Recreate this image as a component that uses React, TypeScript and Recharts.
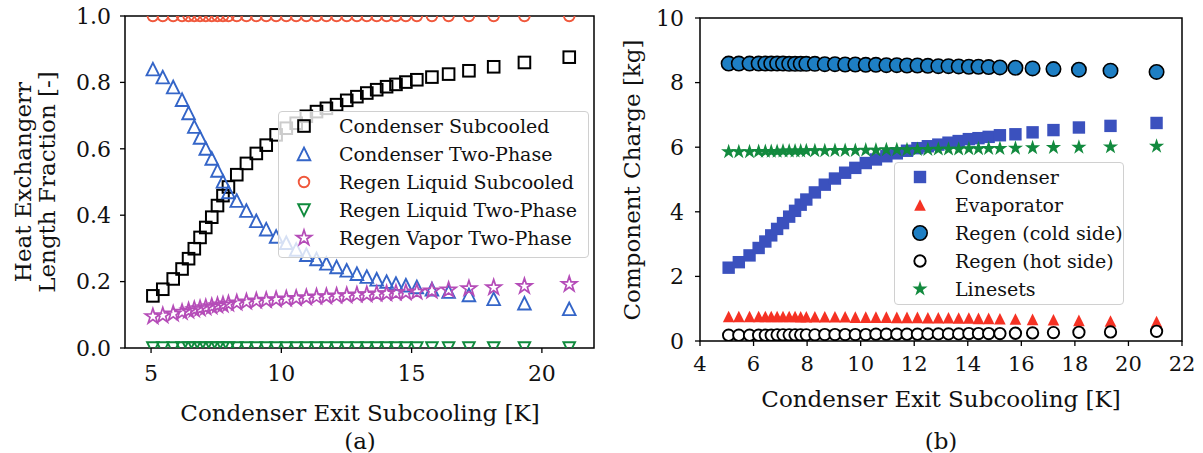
import { ScatterChart, Scatter, XAxis, YAxis, ReferenceArea, Legend } from "recharts";

// condenser exit subcooling [K], shared by both panels
const X = [5.07, 5.45, 5.85, 6.19, 6.44, 6.66, 6.88, 7.1, 7.33, 7.55, 7.76, 7.97, 8.29, 8.66, 9.04, 9.42, 9.8, 10.19, 10.57, 10.96, 11.35, 11.73, 12.12, 12.51, 12.9, 13.28, 13.66, 14.04, 14.4, 14.78, 15.2, 15.78, 16.42, 17.2, 18.15, 19.33, 21.05];

// panel (a): heat exchanger length fractions
const condSubcooled = [0.157, 0.177, 0.208, 0.238, 0.269, 0.299, 0.333, 0.363, 0.394, 0.429, 0.459, 0.485, 0.522, 0.556, 0.586, 0.611, 0.642, 0.662, 0.677, 0.698, 0.712, 0.722, 0.733, 0.746, 0.757, 0.768, 0.778, 0.787, 0.794, 0.801, 0.808, 0.816, 0.825, 0.835, 0.847, 0.86, 0.876];
const condTwoPhase = [0.84, 0.816, 0.786, 0.748, 0.708, 0.667, 0.634, 0.601, 0.571, 0.535, 0.502, 0.47, 0.444, 0.414, 0.383, 0.358, 0.336, 0.317, 0.297, 0.281, 0.268, 0.255, 0.244, 0.234, 0.224, 0.215, 0.207, 0.2, 0.194, 0.189, 0.184, 0.177, 0.17, 0.16, 0.148, 0.135, 0.118];
const regenLiqSubcooled = [1, 1, 1, 1, 1, 1, 1, 1, 1, 1, 1, 1, 1, 1, 1, 1, 1, 1, 1, 1, 1, 1, 1, 1, 1, 1, 1, 1, 1, 1, 1, 1, 1, 1, 1, 1, 1];
const regenLiqTwoPhase = [0, 0, 0, 0, 0, 0, 0, 0, 0, 0, 0, 0, 0, 0, 0, 0, 0, 0, 0, 0, 0, 0, 0, 0, 0, 0, 0, 0, 0, 0, 0, 0, 0, 0, 0, 0, 0];
const regenVapTwoPhase = [0.095, 0.098, 0.103, 0.108, 0.112, 0.116, 0.119, 0.122, 0.125, 0.128, 0.13, 0.133, 0.136, 0.139, 0.142, 0.144, 0.146, 0.148, 0.15, 0.152, 0.154, 0.155, 0.157, 0.158, 0.16, 0.161, 0.163, 0.164, 0.166, 0.167, 0.169, 0.172, 0.175, 0.179, 0.182, 0.186, 0.192];

// panel (b): component charge [kg]
const chargeCondenser = [2.27, 2.44, 2.65, 2.88, 3.08, 3.27, 3.47, 3.65, 3.85, 4.03, 4.22, 4.38, 4.6, 4.84, 5.03, 5.21, 5.36, 5.51, 5.62, 5.72, 5.81, 5.89, 5.97, 6.03, 6.08, 6.14, 6.19, 6.25, 6.28, 6.32, 6.37, 6.4, 6.46, 6.53, 6.61, 6.66, 6.75];
const chargeEvaporator = [0.76, 0.76, 0.76, 0.76, 0.76, 0.76, 0.76, 0.76, 0.76, 0.76, 0.75, 0.75, 0.75, 0.75, 0.75, 0.75, 0.74, 0.74, 0.74, 0.74, 0.73, 0.73, 0.73, 0.72, 0.72, 0.72, 0.71, 0.71, 0.7, 0.7, 0.69, 0.68, 0.67, 0.66, 0.64, 0.62, 0.6];
const chargeRegenCold = [8.59, 8.59, 8.59, 8.59, 8.59, 8.59, 8.59, 8.59, 8.58, 8.58, 8.58, 8.58, 8.58, 8.57, 8.57, 8.56, 8.56, 8.55, 8.55, 8.54, 8.54, 8.53, 8.53, 8.52, 8.51, 8.51, 8.5, 8.49, 8.49, 8.48, 8.47, 8.46, 8.44, 8.42, 8.4, 8.37, 8.33];
const chargeRegenHot = [0.18, 0.18, 0.18, 0.18, 0.18, 0.18, 0.19, 0.19, 0.19, 0.19, 0.19, 0.19, 0.19, 0.2, 0.2, 0.2, 0.2, 0.2, 0.21, 0.21, 0.21, 0.21, 0.21, 0.22, 0.22, 0.22, 0.22, 0.23, 0.23, 0.23, 0.23, 0.24, 0.25, 0.26, 0.27, 0.28, 0.3];
const chargeLinesets = [5.86, 5.86, 5.86, 5.87, 5.87, 5.87, 5.87, 5.88, 5.88, 5.88, 5.88, 5.89, 5.89, 5.89, 5.9, 5.9, 5.9, 5.91, 5.91, 5.92, 5.92, 5.92, 5.93, 5.93, 5.94, 5.94, 5.94, 5.95, 5.95, 5.96, 5.96, 5.97, 5.98, 5.99, 6.0, 6.01, 6.03];

const ticksAX = [5, 10, 15, 20];
const ticksAY = [0, 0.2, 0.4, 0.6, 0.8, 1.0];
const ticksBX = [4, 6, 8, 10, 12, 14, 16, 18, 20, 22];
const ticksBY = [0, 2, 4, 6, 8, 10];

const FONT = "'DejaVu Serif', serif";

type Mk = { kind: "square" | "tri" | "tridown" | "circle" | "star"; r: number; fill: string; stroke: string; sw: number };

function starPoints(cx: number, cy: number, r: number) {
  const pts: string[] = [];
  for (let k = 0; k < 10; k++) {
    const rr = k % 2 === 0 ? r : r * 0.382;
    const a = -Math.PI / 2 + (k * Math.PI) / 5;
    pts.push(`${cx + rr * Math.cos(a)},${cy + rr * Math.sin(a)}`);
  }
  return pts.join(" ");
}

function drawMarker(m: Mk, cx: number, cy: number) {
  if (cx == null || cy == null) return <g />;
  const { r, fill, stroke, sw } = m;
  const common = { fill, stroke, strokeWidth: sw, strokeLinejoin: "miter" as const };
  if (m.kind === "square") return <rect x={cx - r} y={cy - r} width={2 * r} height={2 * r} {...common} />;
  if (m.kind === "circle") return <circle cx={cx} cy={cy} r={r} {...common} />;
  if (m.kind === "tri") return <polygon points={`${cx},${cy - r} ${cx - r},${cy + r} ${cx + r},${cy + r}`} {...common} />;
  if (m.kind === "tridown") return <polygon points={`${cx},${cy + r} ${cx - r},${cy - r} ${cx + r},${cy - r}`} {...common} />;
  return <polygon points={starPoints(cx, cy, r)} {...common} />;
}

const shapeOf = (m: Mk) => (p: any) => drawMarker(m, p.cx, p.cy);

const mkSub: Mk = { kind: "square", r: 5.8, fill: "none", stroke: "#000000", sw: 2 };
const mkTwo: Mk = { kind: "tri", r: 6.3, fill: "none", stroke: "#3465c8", sw: 1.9 };
const mkLiqSub: Mk = { kind: "circle", r: 5.3, fill: "none", stroke: "#f0583c", sw: 1.9 };
const mkLiqTwo: Mk = { kind: "tridown", r: 5.8, fill: "none", stroke: "#0f8a3c", sw: 1.9 };
const mkVap: Mk = { kind: "star", r: 8, fill: "none", stroke: "#b54cb8", sw: 1.7 };

const mkCond: Mk = { kind: "square", r: 6.2, fill: "#3b51be", stroke: "#3b51be", sw: 0 };
const mkEvap: Mk = { kind: "tri", r: 5.8, fill: "#f53224", stroke: "#f53224", sw: 0 };
const mkCold: Mk = { kind: "circle", r: 7.2, fill: "#1e7fc4", stroke: "#000000", sw: 1.6 };
const mkHot: Mk = { kind: "circle", r: 5.7, fill: "#ffffff", stroke: "#000000", sw: 1.9 };
const mkLine: Mk = { kind: "star", r: 8, fill: "#128a3e", stroke: "#128a3e", sw: 0 };

const toPts = (ys: number[]) => X.map((x, i) => ({ x, y: ys[i] }));

const seriesA = [
  { name: "Condenser Subcooled", ys: condSubcooled, m: mkSub },
  { name: "Condenser Two-Phase", ys: condTwoPhase, m: mkTwo },
  { name: "Regen Liquid Subcooled", ys: regenLiqSubcooled, m: mkLiqSub },
  { name: "Regen Liquid Two-Phase", ys: regenLiqTwoPhase, m: mkLiqTwo },
  { name: "Regen Vapor Two-Phase", ys: regenVapTwoPhase, m: mkVap },
];

const seriesB = [
  { name: "Condenser", ys: chargeCondenser, m: mkCond },
  { name: "Evaporator", ys: chargeEvaporator, m: mkEvap },
  { name: "Regen (cold side)", ys: chargeRegenCold, m: mkCold },
  { name: "Regen (hot side)", ys: chargeRegenHot, m: mkHot },
  { name: "Linesets", ys: chargeLinesets, m: mkLine },
];

function LegendBox({ items }: { items: { name: string; m: Mk }[] }) {
  return (
    <div style={{ width: "100%", height: "100%", boxSizing: "border-box", border: "1px solid #d0d0d0", borderRadius: 4, background: "rgba(255,255,255,0.8)", fontFamily: FONT }}>
      {items.map((it) => (
        <div key={it.name} style={{ display: "flex", alignItems: "center", height: 28 }}>
          <svg width={60} height={28} style={{ flex: "none" }}>{drawMarker(it.m, 25, 14)}</svg>
          <span style={{ fontSize: 19, lineHeight: "28px", whiteSpace: "nowrap", color: "#111" }}>{it.name}</span>
        </div>
      ))}
    </div>
  );
}

const tickStyle = (size: number) => ({ fill: "#111", fontSize: size, fontFamily: FONT });

function Title({ text, x, y, rotate, size = 23 }: { text: string; x: number; y: number; rotate?: boolean; size?: number }) {
  return (
    <div style={{ position: "absolute", left: x, top: y, transform: `translate(-50%, -50%)${rotate ? " rotate(-90deg)" : ""}`, whiteSpace: "nowrap", fontSize: size, fontFamily: FONT, color: "#111", lineHeight: 1 }}>
      {text}
    </div>
  );
}

export default function App() {
  return (
    <div style={{ position: "absolute", left: 0, top: 0, width: 1203, height: 453, background: "#fff", fontFamily: FONT, overflow: "hidden" }}>
      {/* (a) length fraction */}
      <div style={{ position: "absolute", left: 0, top: 0 }}>
        <ScatterChart width={600} height={453} margin={{ top: 16, right: 6, left: 65, bottom: 65 }}>
          <XAxis type="number" dataKey="x" domain={[4, 22]} ticks={ticksAX} interval={0} height={40} axisLine={false}
            tickSize={5} tickMargin={12} tickLine={{ stroke: "#000", strokeWidth: 1.3 }} tick={tickStyle(22)} />
          <YAxis type="number" dataKey="y" domain={[0, 1]} ticks={ticksAY} interval={0} width={60} axisLine={false} allowDataOverflow
            tickSize={5} tickMargin={9} tickLine={{ stroke: "#000", strokeWidth: 1.3 }} tick={tickStyle(22)}
            tickFormatter={(v: number) => v.toFixed(1)} />
          {seriesA.map((s) => (
            <Scatter key={s.name} name={s.name} data={toPts(s.ys)} shape={shapeOf(s.m)} isAnimationActive={false} />
          ))}
          <ReferenceArea x1={4} x2={22} y1={0} y2={1} fill="none" stroke="#000" strokeWidth={1.5} ifOverflow="visible" />
          <Legend layout="vertical" align="center" verticalAlign="middle"
            wrapperStyle={{ left: 278, top: 111, width: 311, height: 147 }}
            content={() => <LegendBox items={seriesA} />} />
        </ScatterChart>
      </div>

      {/* (b) component charge */}
      <div style={{ position: "absolute", left: 600, top: 0 }}>
        <ScatterChart width={603} height={453} margin={{ top: 18, right: 21, left: 40, bottom: 72 }}>
          <XAxis type="number" dataKey="x" domain={[4, 22]} ticks={ticksBX} interval={0} height={40} axisLine={false}
            tickSize={5} tickMargin={10} tickLine={{ stroke: "#000", strokeWidth: 1.3 }} tick={tickStyle(21)} />
          <YAxis type="number" dataKey="y" domain={[0, 10]} ticks={ticksBY} interval={0} width={60} axisLine={false} allowDataOverflow
            tickSize={5} tickMargin={11} tickLine={{ stroke: "#000", strokeWidth: 1.3 }} tick={tickStyle(22)} />
          {seriesB.map((s) => (
            <Scatter key={s.name} name={s.name} data={toPts(s.ys)} shape={shapeOf(s.m)} isAnimationActive={false} />
          ))}
          <ReferenceArea x1={4} x2={22} y1={0} y2={10} fill="none" stroke="#000" strokeWidth={1.5} ifOverflow="visible" />
          <Legend layout="vertical" align="center" verticalAlign="middle"
            wrapperStyle={{ left: 294, top: 162, width: 230, height: 143 }}
            content={() => <LegendBox items={seriesB} />} />
        </ScatterChart>
      </div>

      <Title text="Condenser Exit Subcooling [K]" x={360} y={413} />
      <Title text="(a)" x={360} y={441} />
      <Title text="Heat Exchangerr" x={23} y={182} rotate />
      <Title text="Length Fraction [-]" x={47} y={182} rotate />

      <Title text="Condenser Exit Subcooling [K]" x={941} y={399} />
      <Title text="(b)" x={941} y={441} />
      <Title text="Component Charge [kg]" x={632} y={180} rotate />
    </div>
  );
}
